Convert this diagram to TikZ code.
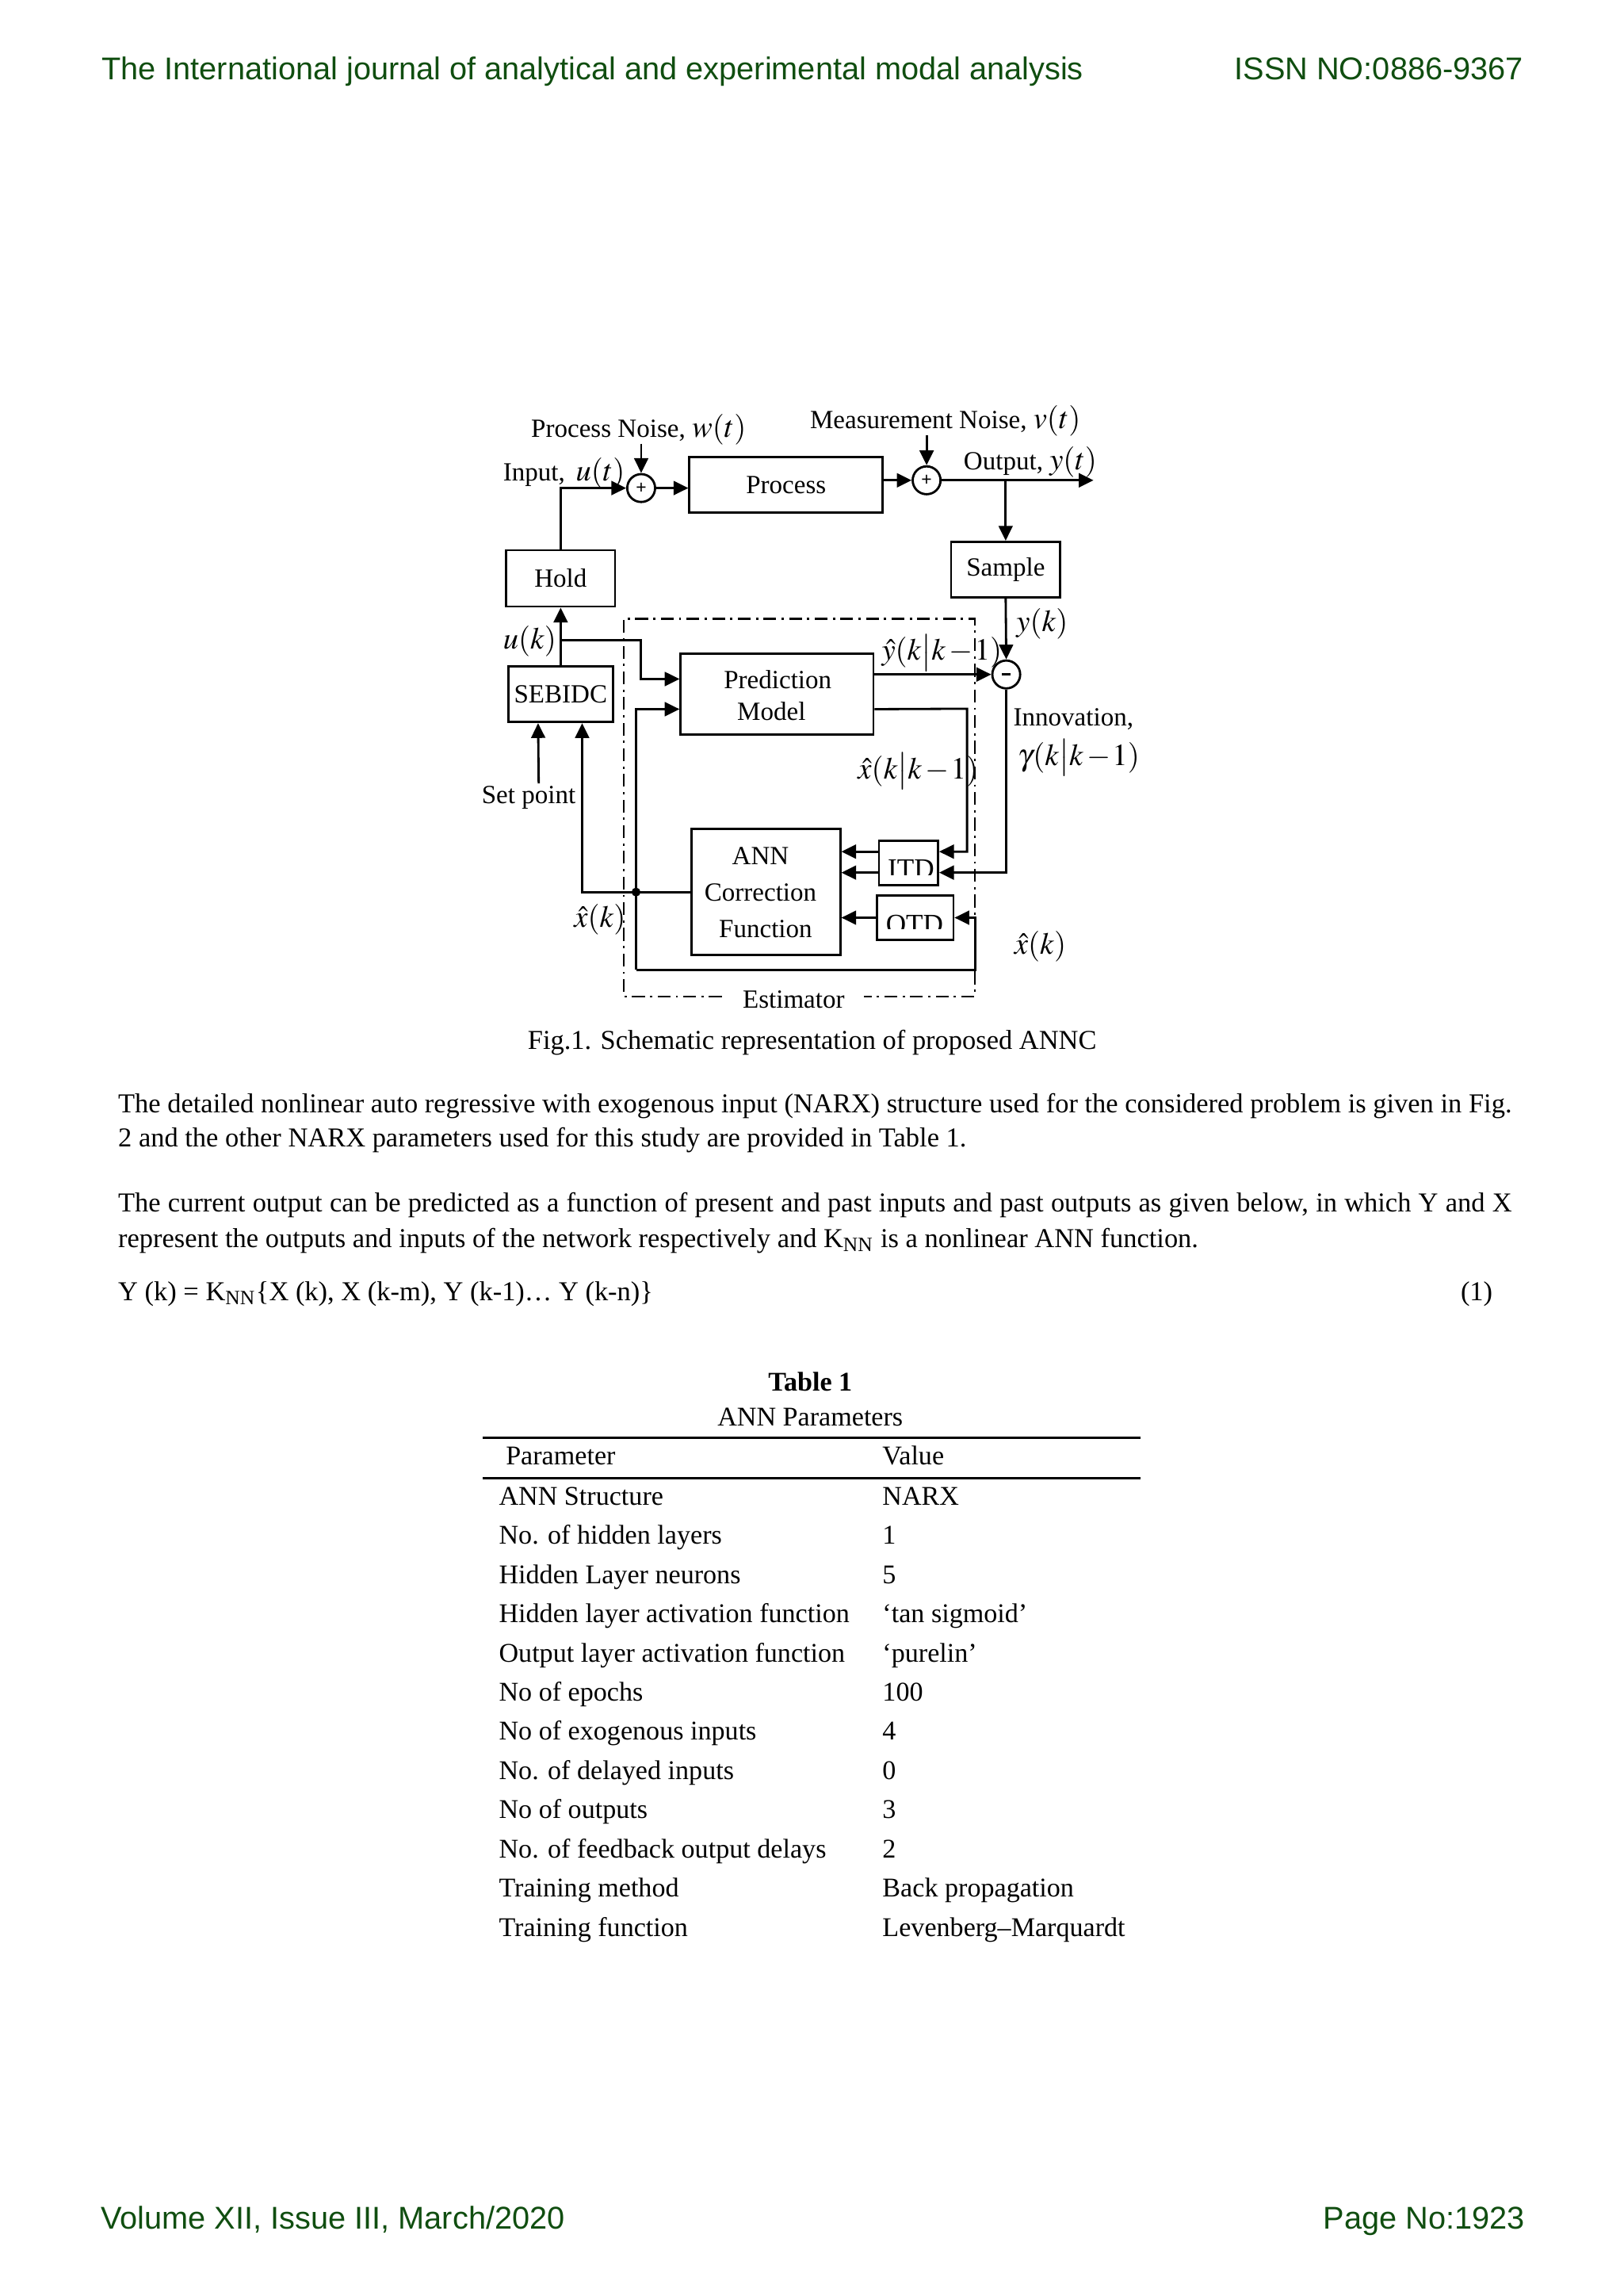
\documentclass[tikz,border=0pt]{standalone}
\usepackage{mathptmx}
\usepackage{fontspec}
\setmainfont{Liberation Serif}
\newfontfamily\HdrFam{Liberation Sans}
\usetikzlibrary{arrows.meta,calc}
\definecolor{hdrgreen}{RGB}{16,78,16}
\newcommand{\DiaFont}{\fontsize{9.4}{11.5}\selectfont}
\newcommand{\MathLbl}{\fontsize{11}{13}\selectfont}
\newcommand{\BodyFont}{\fontsize{9.8}{12.5}\selectfont}
\newcommand{\TabFont}{\fontsize{9.7}{12}\selectfont}
\newcommand{\HdrFont}{\HdrFam\fontsize{11.3}{13}\selectfont\color{hdrgreen}}
\newcommand{\pxu}{0.5255pt}
\newcommand{\kkm}{k\big|k\mkern2mu{-}\mkern1mu1}
\begin{document}
\begin{tikzpicture}[x=0.018467cm,y=-0.018467cm,
  arr/.style={-{Triangle[length=5.3pt,width=5pt]}, line width=0.8pt},
  ln/.style={line width=0.8pt},
  box/.style={draw, line width=0.8pt, inner sep=0pt, font=\DiaFont, align=center},
  sumc/.style={draw, circle, line width=0.8pt, minimum size=10pt, inner sep=0pt, font=\HdrFam\fontsize{6.5}{6.5}\selectfont},
  lbl/.style={inner sep=0pt, anchor=base west, font=\DiaFont},
  mlbl/.style={inner sep=0pt, anchor=base west, font=\MathLbl},
  body/.style={inner sep=0pt, anchor=base west, font=\BodyFont},
  tab/.style={inner sep=0pt, anchor=base west, font=\TabFont},
  hdr/.style={inner sep=0pt, font=\HdrFont},
  dashdot/.style={line width=0.7pt, dash pattern=on 4.6pt off 1.9pt on 0.8pt off 1.9pt}
]
\path[use as bounding box, fill=white] (0,0) rectangle (1109,1568);

% header and footer
\node[hdr, anchor=base west] (h1) at (69,54.2) {The International journal of analytical and experimental modal analysis};
\node[hdr, anchor=base east] (h2) at (1041,54.2) {ISSN NO:0886-9367};
\node[hdr, anchor=base west] (f1) at (68.6,1522) {Volume XII, Issue III, March/2020};
\node[hdr, anchor=base east] (f2) at (1042,1522) {Page No:1923};

% ---------------- diagram ----------------
\node[box, minimum width=132*\pxu, minimum height=38.2*\pxu] (proc) at (537,331.1) {Process};
\node[box, minimum width=74.2*\pxu, minimum height=38.4*\pxu] (hold) at (383,395) {Hold};
\node[box, minimum width=74.5*\pxu, minimum height=38*\pxu] (samp) at (687,389) {Sample};
\node[box, minimum width=71.2*\pxu, minimum height=38.2*\pxu] (sebidc) at (383,474) {SEBIDC};
\node[box, minimum width=131.6*\pxu, minimum height=55.2*\pxu] (pred) at (530.8,473.8) {};
\node[box, minimum width=101.4*\pxu, minimum height=86*\pxu] (ann) at (523.3,609.2) {};
\node[box, minimum width=40.3*\pxu, minimum height=30.3*\pxu] (itd) at (620.65,589.55) {};
\node[box, minimum width=52*\pxu, minimum height=30.6*\pxu] (otd) at (625.3,626.7) {};
\node[sumc] (s1) at (438,333.3) {+};
\node[sumc] (s2) at (633,328) {+};
\node[sumc] (s3) at (687.4,460.6) {\raisebox{0.3pt}{\rule{3pt}{0.8pt}}};

% texts inside boxes
\node[inner sep=0pt, anchor=base, font=\DiaFont] (predt1) at (531.3,470) {Prediction};
\node[inner sep=0pt, anchor=base, font=\DiaFont] (predt2) at (527,491.8) {Model};
\node[inner sep=0pt, anchor=base, font=\DiaFont] (annt1) at (519.5,590.6) {ANN};
\node[inner sep=0pt, anchor=base, font=\DiaFont] (annt2) at (519.5,615.5) {Correction};
\node[inner sep=0pt, anchor=base, font=\DiaFont] (annt3) at (523,640) {Function};
\begin{scope}
  \clip (601,575) rectangle (640,597.5);
  \node[inner sep=0pt, anchor=base, font=\fontsize{10}{12}\selectfont] (itdt) at (622.3,599.6) {ITD};
\end{scope}
\begin{scope}
  \clip (600,612) rectangle (650,634.5);
  \node[inner sep=0pt, anchor=base, font=\fontsize{10}{12}\selectfont] (otdt) at (624.8,637.5) {OTD};
\end{scope}

% labels
\node[lbl] (lpn) at (362.5,298.7) {Process Noise, {\MathLbl$w(t)$}};
\node[lbl] (lmn) at (553,292.4) {Measurement Noise, {\MathLbl$v(t)$}};
\node[lbl] (lin) at (343.3,328.5) {Input,\, {\MathLbl$u(t)$}};
\node[lbl] (lout) at (658,321) {Output, {\MathLbl$y(t)$}};
\node[mlbl] (luk) at (343.3,443) {$u(k)$};
\node[mlbl] (lyk) at (694,431.4) {$y(k)$};
\node[mlbl] (lyhat) at (602,451) {$\hat{y}(\kkm)$};
\node[mlbl] (lxhat) at (585.7,532) {$\hat{x}(\kkm)$};
\node[lbl] (linn) at (691.9,495.5) {Innovation,};
\node[mlbl] (lgam) at (695,522.6) {$\gamma(\kkm)$};
\node[lbl] (lsp) at (328.7,548.6) {Set point};
\node[mlbl] (lxk1) at (391.8,633) {$\hat{x}(k)$};
\node[mlbl] (lxk2) at (692.6,651.5) {$\hat{x}(k)$};
\node[lbl] (lest) at (507,688.6) {Estimator};

% coordinates
\coordinate (pn) at (438,303);
\coordinate (mn) at (633,297);
\coordinate (oute) at (747,328);
\coordinate (uk) at (383,437);
\coordinate (ukb) at (437.6,437);
\coordinate (bl) at (434.5,662.4);
\coordinate (br) at (666.4,662.4);
\coordinate (spt) at (368,535);
\coordinate (xpr) at (660.6,484);
\coordinate (pin1) at ($(pred.north west)!0.322!(pred.south west)$);
\coordinate (pin2) at ($(pred.north west)!0.685!(pred.south west)$);
\coordinate (pout2) at ($(pred.north east)!0.685!(pred.south east)$);
\coordinate (itdin1) at ($(itd.north east)!0.25!(itd.south east)$);
\coordinate (itdin2) at ($(itd.north east)!0.70!(itd.south east)$);
\coordinate (itdo1) at ($(itd.north west)!0.25!(itd.south west)$);
\coordinate (itdo2) at ($(itd.north west)!0.70!(itd.south west)$);
\coordinate (sb1) at ($(sebidc.south west)!0.288!(sebidc.south east)$);
\coordinate (sb2) at ($(sebidc.south west)!0.702!(sebidc.south east)$);

% connectors
\draw[arr] (pn) -- (s1.north);
\draw[arr] (mn) -- (s2.north);
\draw[arr] (hold.north) |- (s1.west);
\draw[arr] (s1.east) -- (proc.west |- s1.east);
\draw[arr] (proc.east |- s2.west) -- (s2.west);
\draw[arr] (s2.east) -- (oute);
\draw[arr] (samp.north |- s2.east) -- (samp.north);
\draw[arr] (samp.south) -- (s3.north);
\draw[arr] (sebidc.north) -- (hold.south);
\draw[arr] (uk) -- (ukb) |- (pin1);
\draw[arr] (bl) |- (pin2);
\draw[arr] (bl) -- (br) |- (otd.east);
\draw[arr] (ann.west) -| (sb2);
\draw[arr] (spt) -- (sb1);
\draw[arr] (pred.east |- s3.west) -- (s3.west);
\draw[arr] (pout2) -- (xpr) |- (itdin1);
\draw[arr] (s3.south) |- (itdin2);
\draw[arr] (itdo1) -- (ann.east |- itdo1);
\draw[arr] (itdo2) -- (ann.east |- itdo2);
\draw[arr] (otd.west) -- (ann.east |- otd.west);
\node[circle, fill, inner sep=0pt, minimum size=3.2pt] (jn) at (434.5,609.2) {};

% estimator frame
\coordinate (e1) at (493,680.5);
\coordinate (e2) at (426,680.5);
\coordinate (e3) at (426,422.7);
\coordinate (e4) at (666,422.7);
\coordinate (e5) at (666,680.5);
\coordinate (e6) at (590,680.5);
\draw[dashdot] (e1) -- (e2) -- (e3) -- (e4) -- (e5) -- (e6);

% caption
\node[inner sep=0pt, anchor=base, font=\BodyFont] (cap) at (554.8,716.5) {Fig.1. Schematic representation of proposed ANNC};

% body text
\node[body] (b1) at (80.4,760) {\makebox[500.1pt][s]{The detailed nonlinear auto regressive with exogenous input (NARX) structure used for the considered problem is given in Fig.}};
\node[body] (b2) at (80.4,783.4) {2 and the other NARX parameters used for this study are provided in Table 1.};
\node[body] (b3) at (80.4,827.6) {\makebox[500.1pt][s]{The current output can be predicted as a function of present and past inputs and past outputs as given below, in which Y and X}};
\node[body] (b4) at (80.4,852) {represent the outputs and inputs of the network respectively and K\textsubscript{NN} is a nonlinear ANN function.};
\node[body] (eq) at (80.4,888) {Y (k) = K\textsubscript{NN}\{X (k), X (k-m), Y (k-1)… Y (k-n)\}};
\node[body, anchor=base east] (eqn) at (1020,888) {(1)};

% table
\node[inner sep=0pt, anchor=base, font=\TabFont\bfseries] (tt) at (553.5,950) {Table 1};
\node[inner sep=0pt, anchor=base, font=\TabFont] (ts) at (553.5,974) {ANN Parameters};
\coordinate (r1a) at (329.6,982); \coordinate (r1b) at (779,982);
\coordinate (r2a) at (329.6,1009.5); \coordinate (r2b) at (779,1009.5);
\draw[line width=0.8pt] (r1a) -- (r1b);
\draw[line width=0.8pt] (r2a) -- (r2b);
\node[tab] (th1) at (345.2,1000.3) {Parameter};
\node[tab] (th2) at (602.5,1000.3) {Value};
\foreach \p/\v [count=\i from 0] in {ANN Structure/NARX, No. of hidden layers/1, Hidden Layer neurons/5, Hidden layer activation function/‘tan sigmoid’, Output layer activation function/‘purelin’, No of epochs/100, No of exogenous inputs/4, No. of delayed inputs/0, No of outputs/3, No. of feedback output delays/2, Training method/Back propagation, Training function/Levenberg–Marquardt}{
  \node[tab] (tp\i) at (340.5,1027.8+26.77*\i) {\p};
  \node[tab] (tv\i) at (602.5,1027.8+26.77*\i) {\v};
}
\end{tikzpicture}
\end{document}
